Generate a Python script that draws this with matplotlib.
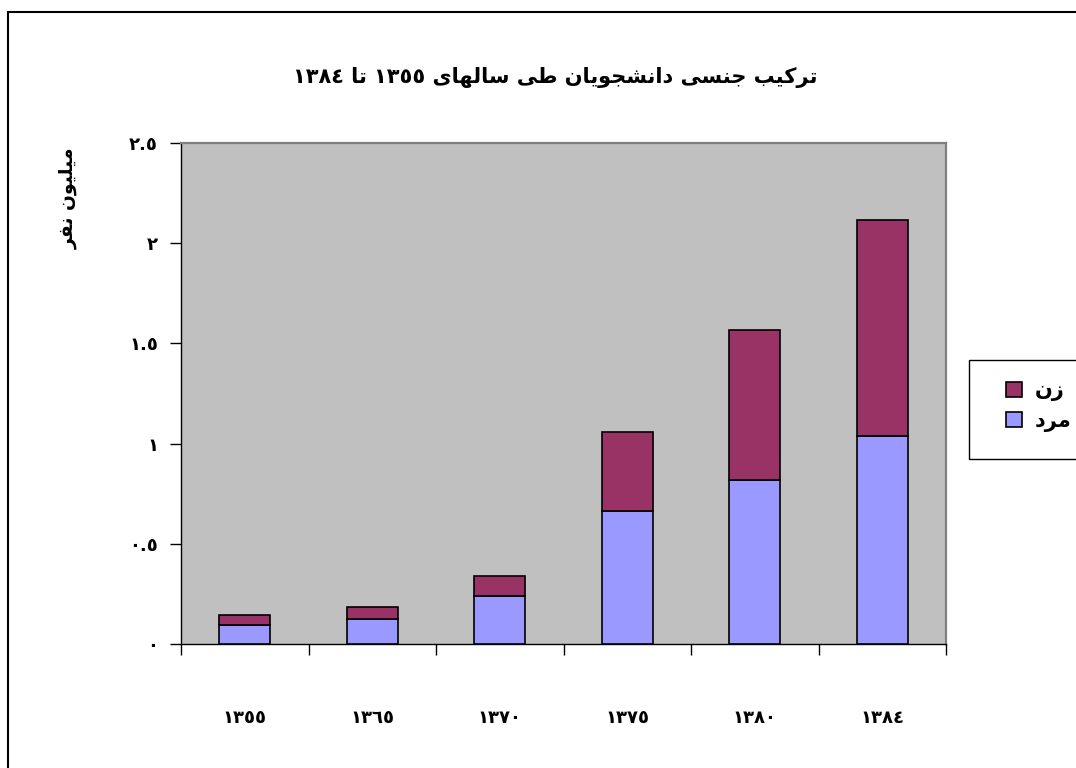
import re
import matplotlib
matplotlib.use('Agg')
import matplotlib.pyplot as plt
from matplotlib.patches import Rectangle

# data (million people)
years = ['١٣٥٥', '١٣٦٥', '١٣٧٠', '١٣٧٥', '١٣٨٠', '١٣٨٤']
men = [0.095, 0.125, 0.24, 0.665, 0.818, 1.038]
women = [0.05, 0.06, 0.10, 0.393, 0.749, 1.078]
ytick_vals = [0, 0.5, 1, 1.5, 2, 2.5]
ytick_labels = ['٠', '٠.٥', '١', '١.٥', '٢', '٢.٥']
series_names = ['زن', 'مرد']
title = 'ترکیب جنسی دانشجویان طی سالهای ١٣٥٥ تا ١٣٨٤'
ylabel = 'میلیون نفر'

# presentation forms: isolated, final, initial, medial
FORMS = {
    'ا': ('\uFE8D', '\uFE8E', None, None),
    'ب': ('\uFE8F', '\uFE90', '\uFE91', '\uFE92'),
    'ت': ('\uFE95', '\uFE96', '\uFE97', '\uFE98'),
    'ج': ('\uFE9D', '\uFE9E', '\uFE9F', '\uFEA0'),
    'د': ('\uFEA9', '\uFEAA', None, None),
    'ر': ('\uFEAD', '\uFEAE', None, None),
    'ز': ('\uFEAF', '\uFEB0', None, None),
    'س': ('\uFEB1', '\uFEB2', '\uFEB3', '\uFEB4'),
    'ش': ('\uFEB5', '\uFEB6', '\uFEB7', '\uFEB8'),
    'ط': ('\uFEC1', '\uFEC2', '\uFEC3', '\uFEC4'),
    'ف': ('\uFED1', '\uFED2', '\uFED3', '\uFED4'),
    'ل': ('\uFEDD', '\uFEDE', '\uFEDF', '\uFEE0'),
    'م': ('\uFEE1', '\uFEE2', '\uFEE3', '\uFEE4'),
    'ن': ('\uFEE5', '\uFEE6', '\uFEE7', '\uFEE8'),
    'ه': ('\uFEE9', '\uFEEA', '\uFEEB', '\uFEEC'),
    'و': ('\uFEED', '\uFEEE', None, None),
    'ی': ('\uFBFC', '\uFBFD', '\uFBFE', '\uFBFF'),
    'ک': ('\uFB8E', '\uFB8F', '\uFB90', '\uFB91'),
}


def shape(text):
    out = []
    for i, ch in enumerate(text):
        if ch not in FORMS:
            out.append(ch)
            continue
        prev = text[i - 1] if i > 0 else ''
        nxt = text[i + 1] if i + 1 < len(text) else ''
        join_prev = prev in FORMS and FORMS[prev][2] is not None
        join_next = FORMS[ch][2] is not None and nxt in FORMS
        iso, fin, ini, med = FORMS[ch]
        if join_prev and join_next:
            out.append(med)
        elif join_prev:
            out.append(fin)
        elif join_next:
            out.append(ini)
        else:
            out.append(iso)
    vis = ''.join(out)[::-1]
    # numbers keep left-to-right order
    return re.sub(r'[0-9\u0660-\u0669.]+', lambda m: m.group(0)[::-1], vis)


plt.rcParams['font.family'] = ['DejaVu Sans']
plt.rcParams['font.weight'] = 'bold'

fig = plt.figure(figsize=(10.76, 7.68), dpi=100)
ax = fig.add_axes([181 / 1076, 1 - 644 / 768, 765 / 1076, 501 / 768])
ax.set_facecolor('#C0C0C0')

x = range(len(years))
ax.bar(x, men, width=0.4, color='#9999FF', edgecolor='black', linewidth=1.2,
       label=series_names[1], zorder=3)
ax.bar(x, women, width=0.4, bottom=men, color='#993366', edgecolor='black',
       linewidth=1.2, label=series_names[0], zorder=3)

ax.set_xlim(-0.5, len(years) - 0.5)
ax.set_ylim(0, 2.5)
ax.set_xticks([i - 0.5 for i in range(len(years) + 1)])
ax.set_xticklabels([])
ax.set_xticks(list(x), minor=True)
ax.set_xticklabels(years, minor=True, fontsize=13, fontweight='bold')
ax.tick_params(axis='x', which='major', length=8, width=1, direction='out')
ax.tick_params(axis='x', which='minor', length=0, pad=47)
ax.set_yticks(ytick_vals)
ax.set_yticklabels(ytick_labels, fontsize=13, fontweight='bold')
ax.tick_params(axis='y', length=8, width=1, direction='out', pad=8.5)

for s in ['top', 'right']:
    ax.spines[s].set_color('#808080')
    ax.spines[s].set_linewidth(1.6)
for s in ['left', 'bottom']:
    ax.spines[s].set_color('black')
    ax.spines[s].set_linewidth(1.0)

fig.text(555 / 1076, 1 - 78 / 768, shape(title), ha='center', va='center',
         fontsize=15, fontweight='bold')
fig.text(68 / 1076, 1 - 198 / 768, shape(ylabel), ha='center', va='center',
         rotation=90, fontsize=13.5, fontweight='bold')

# outer chart border (only left/top visible)
fig.add_artist(Rectangle((8 / 1076, -0.1), 1.2, 1.1 - 12 / 768,
                         transform=fig.transFigure, fill=False,
                         edgecolor='black', linewidth=1.5))

# legend frame and entries
fig.add_artist(Rectangle((969 / 1076, 1 - 459 / 768), 0.2, 99 / 768,
                         transform=fig.transFigure, fill=False,
                         edgecolor='black', linewidth=1.0))
handles, labels = ax.get_legend_handles_labels()
leg = fig.legend(handles[::-1], [shape(l) for l in labels[::-1]],
                 loc='upper left', bbox_to_anchor=(996 / 1076, 1 - 370 / 768),
                 frameon=False, fontsize=15, handlelength=0.75, handleheight=0.75,
                 handletextpad=0.6, labelspacing=0.45, borderpad=0)

fig.savefig('out.png', dpi=100)
